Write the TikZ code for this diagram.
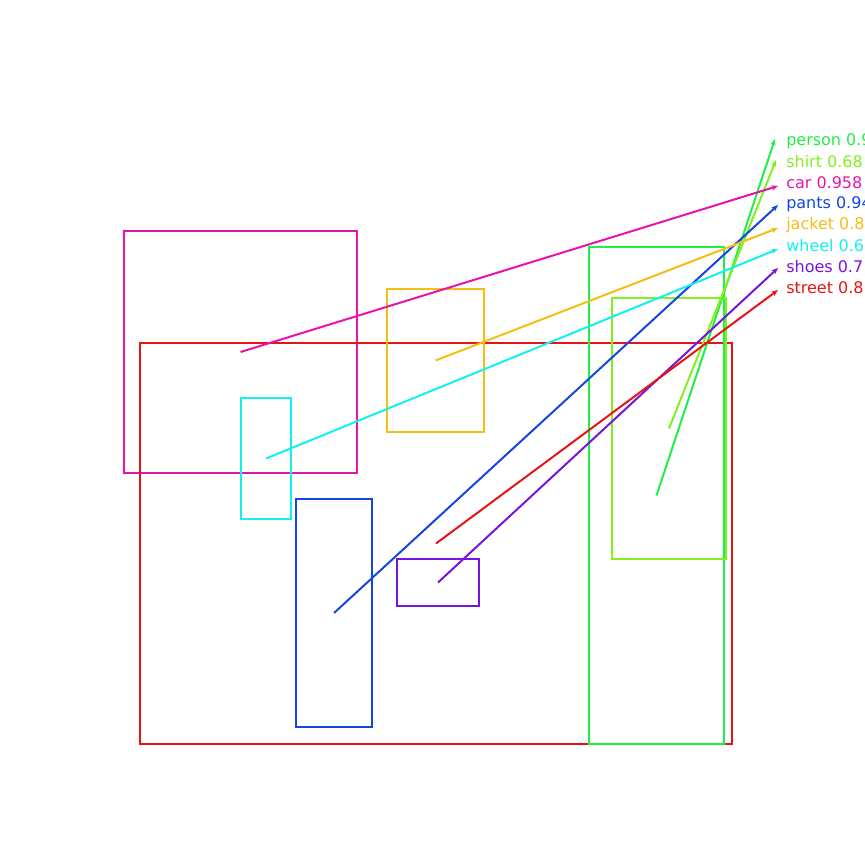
\documentclass[tikz,border=0pt]{standalone}
\usepackage{fontspec}
\setmainfont{DejaVu Sans}
\usetikzlibrary{arrows.meta}
\definecolor{cperson}{RGB}{30,240,70}
\definecolor{cshirt}{RGB}{130,240,30}
\definecolor{ccar}{RGB}{232,20,170}
\definecolor{cpants}{RGB}{20,70,225}
\definecolor{cjacket}{RGB}{245,190,20}
\definecolor{cwheel}{RGB}{20,240,240}
\definecolor{cshoes}{RGB}{120,20,220}
\definecolor{cstreet}{RGB}{230,20,20}
\tikzset{
  bbox/.style={draw, line width=1.5pt, inner sep=0pt, outer sep=0pt},
  lbl/.style={anchor=west, inner sep=0pt, font=\fontsize{12pt}{14pt}\selectfont},
  conn/.style={line width=1.5pt, -{Stealth[length=5pt,width=4pt]}},
}
\newcommand{\bx}[6]{% name, color, x1,y1,x2,y2
  \node[bbox, draw=#2, minimum width={(#5-#3)*0.75pt}, minimum height={(#6-#4)*0.75pt}] (#1) at ({(#3+#5)/2},{(#4+#6)/2}) {};}
\begin{document}
\begin{tikzpicture}[x=0.75pt,y=-0.75pt]
\useasboundingbox (0,0) rectangle (864,864);
\bx{car}{ccar}{124}{231}{357}{473}
\bx{street}{cstreet}{140}{343}{732}{744}
\bx{jacket}{cjacket}{387}{289}{484}{432}
\bx{wheel}{cwheel}{241}{398}{291}{519}
\bx{pants}{cpants}{296}{499}{372}{727}
\bx{shoes}{cshoes}{397}{559}{479}{606}
\bx{person}{cperson}{589}{247}{724}{744}
\bx{shirt}{cshirt}{612}{298}{726}{559}

\node[lbl, text=cperson] (lperson) at (786,141) {person 0.9};
\node[lbl, text=cshirt] (lshirt) at (786,162) {shirt 0.68};
\node[lbl, text=ccar] (lcar) at (786,183) {car 0.958};
\node[lbl, text=cpants] (lpants) at (786,204) {pants 0.94};
\node[lbl, text=cjacket] (ljacket) at (786,225) {jacket 0.8};
\node[lbl, text=cwheel] (lwheel) at (786,246) {wheel 0.6};
\node[lbl, text=cshoes] (lshoes) at (786,267) {shoes 0.7};
\node[lbl, text=cstreet] (lstreet) at (786,288) {street 0.8};

\coordinate (eperson) at (775,139);
\coordinate (eshirt) at (776,160);
\coordinate (ecar) at (778,186);
\coordinate (epants) at (778,205);
\coordinate (ejacket) at (778,228);
\coordinate (ewheel) at (778,249);
\coordinate (eshoes) at (778,268);
\coordinate (estreet) at (778,290);

\draw[conn, cperson] (person.center) -- (eperson);
\draw[conn, cshirt] (shirt.center) -- (eshirt);
\draw[conn, ccar] (car.center) -- (ecar);
\draw[conn, cpants] (pants.center) -- (epants);
\draw[conn, cjacket] (jacket.center) -- (ejacket);
\draw[conn, cwheel] (wheel.center) -- (ewheel);
\draw[conn, cshoes] (shoes.center) -- (eshoes);
\draw[conn, cstreet] (street.center) -- (estreet);
\end{tikzpicture}
\end{document}
